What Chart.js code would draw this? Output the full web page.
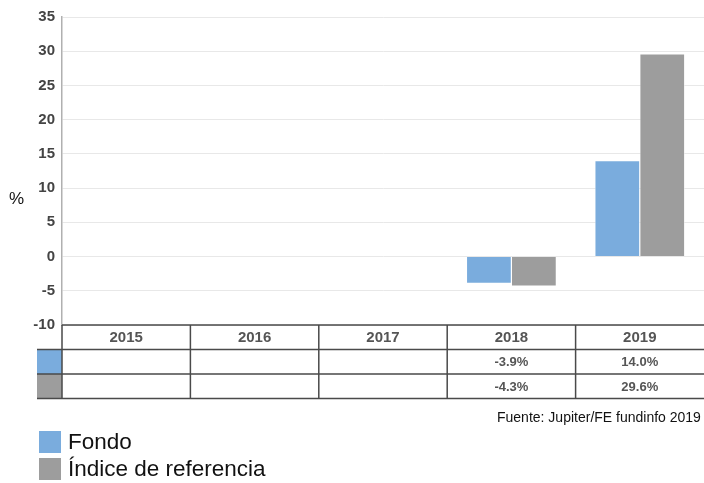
<!DOCTYPE html>
<html>
<head>
<meta charset="utf-8">
<script src="https://cdn.jsdelivr.net/npm/chart.js@4"></script>
<style>
    html, body { margin: 0; padding: 0; background: #fff; overflow: hidden; }
    #wrap { width: 704px; height: 483px; position: relative; }
</style>
</head>
<body>
<div id="wrap"><canvas id="perfChart" width="704" height="483"></canvas></div>
<script>
// chart data
const years = ['2015', '2016', '2017', '2018', '2019'];
const fondoValues = [null, null, null, -3.9, 14.0];
const indiceValues = [null, null, null, -4.3, 29.6];
const seriesNames = ['Fondo', 'Índice de referencia'];
const yTicks = [-10, -5, 0, 5, 10, 15, 20, 25, 30, 35];
const sourceText = 'Fuente: Jupiter/FE fundinfo 2019';

const fondoColor = '#7aacdd';
const indiceColor = '#9d9d9d';
const lineColor = '#4a4a4a';

const fmt = v => v === null ? '' : v.toFixed(1) + '%';

// draws the data table, legend and source under the plot
const tablePlugin = {
    id: 'tablePlugin',
    afterDraw(chart) {
        const ctx = chart.ctx;
        const area = chart.chartArea;
        const x = chart.scales.x;
        const left = area.left;
        const right = area.right;
        const rowH = 24.5;
        const top = area.bottom;
        const rows = [top, top + rowH, top + rowH * 2, top + rowH * 3];
        const colW = (right - left) / years.length;

        ctx.save();
        // colour swatches in row headers
        ctx.fillStyle = fondoColor;
        ctx.fillRect(37, rows[1], left - 37, rowH);
        ctx.fillStyle = indiceColor;
        ctx.fillRect(37, rows[2], left - 37, rowH);

        ctx.strokeStyle = lineColor;
        ctx.lineWidth = 1.5;
        ctx.beginPath();
        // horizontal lines
        ctx.moveTo(left, rows[0]); ctx.lineTo(right, rows[0]);
        ctx.moveTo(37, rows[1]); ctx.lineTo(right, rows[1]);
        ctx.moveTo(37, rows[2]); ctx.lineTo(right, rows[2]);
        ctx.moveTo(37, rows[3]); ctx.lineTo(right, rows[3]);
        // vertical lines (the last one falls outside the visible page)
        for (let i = 0; i < years.length; i++) {
            const xx = left + colW * i;
            ctx.moveTo(xx, rows[0]); ctx.lineTo(xx, rows[3]);
        }
        ctx.stroke();

        ctx.fillStyle = '#555';
        ctx.font = 'bold 15px "Liberation Sans", Arial, sans-serif';
        ctx.textAlign = 'center';
        ctx.textBaseline = 'middle';
        years.forEach((y, i) => {
            const cx = x.getPixelForValue(i);
            ctx.fillText(y, cx, rows[0] + rowH / 2 + 1);
        });
        ctx.font = 'bold 13px "Liberation Sans", Arial, sans-serif';
        years.forEach((y, i) => {
            const cx = x.getPixelForValue(i);
            ctx.fillText(fmt(fondoValues[i]), cx, rows[1] + rowH / 2 + 1);
            ctx.fillText(fmt(indiceValues[i]), cx, rows[2] + rowH / 2 + 1);
        });

        // source
        ctx.fillStyle = '#111';
        ctx.font = '14px "Liberation Sans", Arial, sans-serif';
        ctx.textAlign = 'left';
        ctx.fillText(sourceText, 497, 418);

        // legend
        const legendColors = [fondoColor, indiceColor];
        ctx.font = '22.5px "Liberation Sans", Arial, sans-serif';
        seriesNames.forEach((name, i) => {
            const yy = 431 + i * 27;
            ctx.fillStyle = legendColors[i];
            ctx.fillRect(39, yy, 22, 22);
            ctx.fillStyle = '#111';
            ctx.fillText(name, 68, yy + 12);
        });

        // % axis title
        ctx.font = '17px "Liberation Sans", Arial, sans-serif';
        ctx.fillText('%', 9, 199);
        ctx.restore();
    }
};

const ctx = document.getElementById('perfChart').getContext('2d');
new Chart(ctx, {
    type: 'bar',
    data: {
        labels: years,
        datasets: [{
            label: seriesNames[0],
            data: fondoValues,
            backgroundColor: fondoColor,
            borderColor: '#ffffff',
            borderWidth: 0.6
        }, {
            label: seriesNames[1],
            data: indiceValues,
            backgroundColor: indiceColor,
            borderColor: '#ffffff',
            borderWidth: 0.6
        }]
    },
    options: {
        responsive: false,
        animation: false,
        layout: { padding: { top: 17, right: 0, bottom: 158, left: 0 } },
        plugins: {
            legend: { display: false },
            tooltip: { enabled: false }
        },
        datasets: {
            bar: { categoryPercentage: 0.7, barPercentage: 1.0 }
        },
        scales: {
            x: {
                display: false,
                offset: true
            },
            y: {
                min: -10,
                max: 35,
                afterBuildTicks: scale => { scale.ticks = yTicks.map(v => ({ value: v })); },
                afterFit: scale => { scale.width = 62; },
                grid: { color: '#e8e8e8', drawTicks: false },
                border: { color: '#b0b0b0', width: 1.5 },
                ticks: {
                    padding: 7,
                    color: '#444',
                    font: { family: '"Liberation Sans", Arial, sans-serif', size: 15, weight: 'bold' }
                }
            }
        }
    },
    plugins: [tablePlugin]
});
</script>
</body>
</html>
